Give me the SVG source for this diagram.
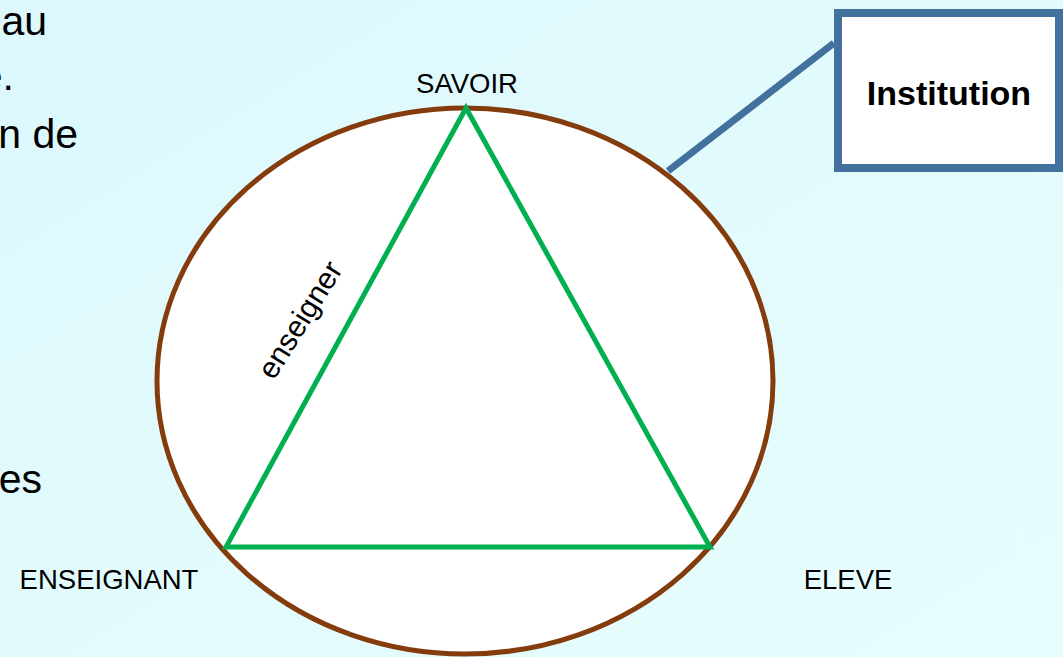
<svg xmlns="http://www.w3.org/2000/svg" width="1063" height="657" viewBox="0 0 1063 657">
<defs>
<linearGradient id="bg" x1="0" y1="0" x2="1" y2="1">
<stop offset="0" stop-color="#DCF8FC"/>
<stop offset="1" stop-color="#E8FDFD"/>
</linearGradient>
<style>
.txt{font-family:"Liberation Sans",Arial,sans-serif;fill:#000}
.lbl{font-size:27.5px}
.side{font-size:41px}
</style>
</defs>
<rect x="0" y="0" width="1063" height="657" fill="url(#bg)"/>
<g id="background-text" class="txt side" text-anchor="end">
<text x="47" y="35">au</text>
<text x="14" y="90">e.</text>
<text x="78" y="148">n de</text>
<text x="42" y="493">es</text>
</g>
<g id="connectors">
<line x1="668" y1="171" x2="834" y2="43" stroke="#41719C" stroke-width="7"/>
</g>
<g id="institution-ellipse">
<ellipse cx="465" cy="381" rx="308" ry="273" fill="#FFFFFF" stroke="#843C0C" stroke-width="5"/>
</g>
<g id="triangle">
<polygon points="466,108 226,547 710,547" fill="none" stroke="#00B050" stroke-width="5" stroke-linejoin="miter"/>
</g>
<g id="node-savoir">
<text class="txt lbl" x="467" y="93" text-anchor="middle">SAVOIR</text>
</g>
<g id="node-enseignant">
<text class="txt lbl" x="109" y="589" text-anchor="middle">ENSEIGNANT</text>
</g>
<g id="node-eleve">
<text class="txt lbl" x="848" y="589" text-anchor="middle">ELEVE</text>
</g>
<g id="label-enseigner">
<text class="txt" font-size="30" x="302" y="321" text-anchor="middle" dominant-baseline="middle" transform="rotate(-58 302 321)">enseigner</text>
</g>
<g id="node-institution">
<rect x="838" y="13" width="221" height="155" fill="#FFFFFF" stroke="#41719C" stroke-width="8"/>
<text class="txt" x="949" y="105" text-anchor="middle" font-size="34" font-weight="bold">Institution</text>
</g>
</svg>
